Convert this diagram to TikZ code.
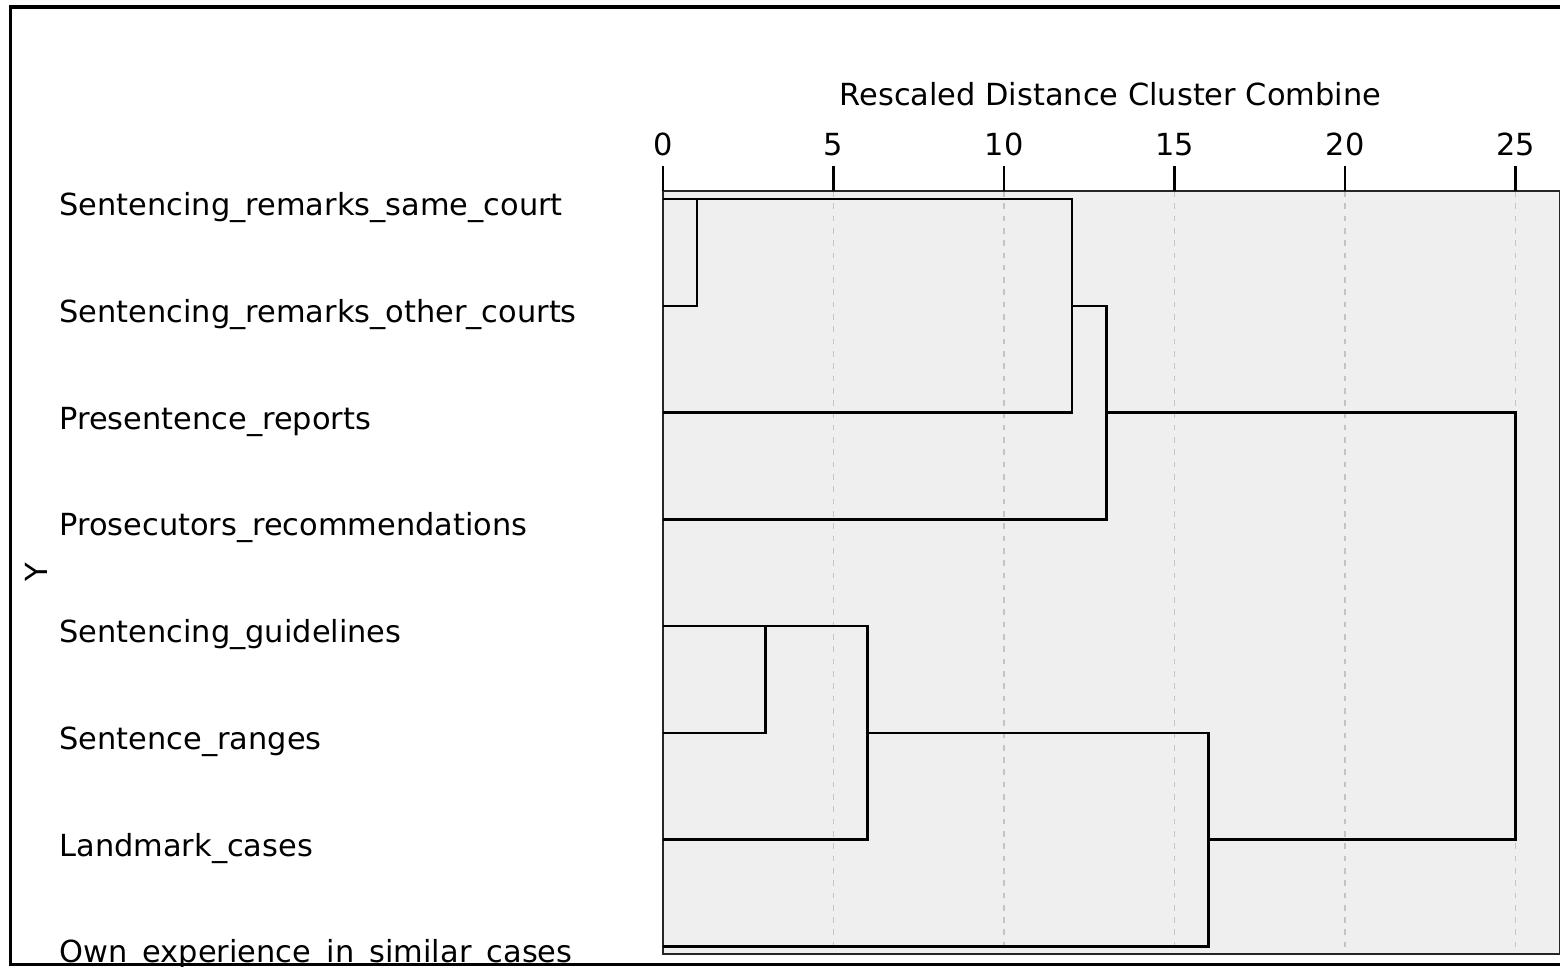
\documentclass[tikz,border=0pt]{standalone}
\usepackage{fontspec}
\setmainfont{DejaVu Sans}
\definecolor{panelgrey}{HTML}{EFEFEF}
\definecolor{gridgrey}{HTML}{C4C4C4}
\tikzset{
  lab/.style={inner sep=0pt, font=\fontsize{8.65}{10}\selectfont},
  leaflabel/.style={lab, anchor=base west},
  link/.style={line width=0.7pt, black, line join=miter},
  gridline/.style={gridgrey, line width=0.45pt, dash pattern=on 1.6pt off 1.9pt},
}
\begin{document}
\begin{tikzpicture}[x=0.01cm, y=-0.01cm]
  \useasboundingbox (0,0) rectangle (1560,966);
  % plot region: x in rescaled distance, y in leaf rows
  \begin{scope}[shift={(663,199)}, x=0.3408cm, y=-1.067cm]
    \fill[panelgrey] (0,-0.075) rectangle (26.29,7.071);
    \foreach \d in {5,10,...,25}
      \draw[gridline] (\d,-0.075) -- (\d,7.071);
    \draw[line width=0.5pt, black!85] (0,-0.075) rectangle (26.29,7.071);
    % axis
    \foreach \d in {0,5,...,25} {
      \draw[line width=0.7pt] (\d,-0.309) -- (\d,-0.075);
      \node[lab, anchor=base] (tick\d) at (\d,-0.403) {\d};
    }
    \node[lab, anchor=base] (title) at (13.12,-0.872) {Rescaled Distance Cluster Combine};
    \node[lab, rotate=90] (ylab) at (-18.37,3.496) {Y};
    % leaves
    \foreach \lab [count=\i from 0] in {Sentencing\_remarks\_same\_court,
        Sentencing\_remarks\_other\_courts, Presentence\_reports,
        Prosecutors\_recommendations, Sentencing\_guidelines,
        Sentence\_ranges, Landmark\_cases, Own\_experience\_in\_similar\_cases} {
      \coordinate (leaf\i) at (0,\i);
      \node[leaflabel] (name\i) at (-17.72,\i+0.155) {\lab};
    }
    % dendrogram
    \draw[link] (leaf0) -- (1,0) |- (leaf1);
    \draw[link] (1,0) -- (12,0) |- (leaf2);
    \draw[link] (12,1) -- (13,1) |- (leaf3);
    \draw[link] (13,2) -- (25,2) |- (16,6);
    \draw[link] (leaf4) -- (3,4) |- (leaf5);
    \draw[link] (3,4) -- (6,4) |- (leaf6);
    \draw[link] (6,5) -- (16,5) |- (leaf7);
  \end{scope}
  % outer frame
  \draw[line width=1pt] (10.5,7) rectangle (1620,964.5);
\end{tikzpicture}
\end{document}
